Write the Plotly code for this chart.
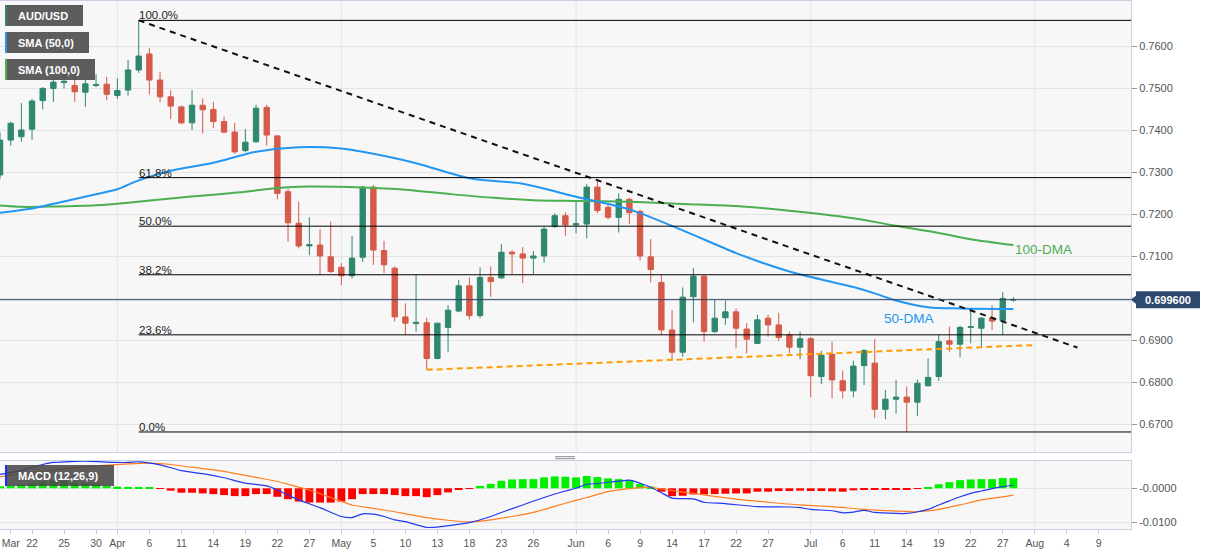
import numpy as np
import pandas as pd
import plotly.graph_objects as go

# ---------------- data ----------------
dates = pd.bdate_range("2022-03-17", "2022-07-28").strftime("%Y-%m-%d").tolist()

open_ = [0.7293, 0.7376, 0.7384, 0.7402, 0.7470, 0.7499, 0.7513, 0.7506, 0.7490, 0.7506, 0.7509,
         0.7482, 0.7495, 0.7543, 0.7581, 0.7519, 0.7479, 0.7455, 0.7417, 0.7459, 0.7449, 0.7420,
         0.7395, 0.7351, 0.7372, 0.7454, 0.7386, 0.7253, 0.7178, 0.7124, 0.7126, 0.7098,
         0.7073, 0.7053, 0.7097, 0.7264, 0.7113, 0.7071, 0.6955, 0.6939, 0.6941, 0.6856, 0.6930,
         0.6969, 0.7029, 0.6958, 0.7049, 0.7048, 0.7109, 0.7105, 0.7095, 0.7100, 0.7170, 0.7196,
         0.7174, 0.7176, 0.7264, 0.7216, 0.7192, 0.7235, 0.7206, 0.7098, 0.7037, 0.6924, 0.6871,
         0.7003, 0.7052, 0.6920, 0.6953, 0.6967, 0.6926, 0.6892, 0.6952, 0.6936, 0.6912, 0.6883,
         0.6903, 0.6813, 0.6866, 0.6803, 0.6779, 0.6839, 0.6845, 0.6735, 0.6759, 0.6764, 0.6752,
         0.6791, 0.6813, 0.6898, 0.6890, 0.6930, 0.6928, 0.6952, 0.6946, 0.6995]
high = [0.7394, 0.7420, 0.7464, 0.7474, 0.7502, 0.7523, 0.7536, 0.7531, 0.7521, 0.7533, 0.7527,
        0.7523, 0.7567, 0.7661, 0.7595, 0.7539, 0.7495, 0.7458, 0.7495, 0.7475, 0.7467, 0.7432,
        0.7417, 0.7402, 0.7460, 0.7460, 0.7388, 0.7260, 0.7229, 0.7192, 0.7164, 0.7182,
        0.7083, 0.7148, 0.7267, 0.7269, 0.7136, 0.7075, 0.6987, 0.7055, 0.6953, 0.6941, 0.6983,
        0.7043, 0.7049, 0.7073, 0.7075, 0.7128, 0.7114, 0.7121, 0.7112, 0.7170, 0.7202, 0.7204,
        0.7229, 0.7271, 0.7283, 0.7221, 0.7249, 0.7239, 0.7210, 0.7140, 0.7055, 0.6971, 0.7025,
        0.7071, 0.7055, 0.6995, 0.6994, 0.6975, 0.6940, 0.6960, 0.6960, 0.6965, 0.6920, 0.6920,
        0.6907, 0.6874, 0.6896, 0.6827, 0.6851, 0.6878, 0.6902, 0.6781, 0.6805, 0.6789, 0.6806,
        0.6856, 0.6912, 0.6932, 0.6934, 0.6971, 0.6954, 0.6983, 0.7014, 0.7002]
low = [0.7283, 0.7363, 0.7372, 0.7376, 0.7449, 0.7467, 0.7499, 0.7467, 0.7455, 0.7502, 0.7471,
       0.7474, 0.7482, 0.7536, 0.7485, 0.7466, 0.7426, 0.7414, 0.7400, 0.7392, 0.7404, 0.7392,
       0.7343, 0.7347, 0.7370, 0.7363, 0.7235, 0.7134, 0.7118, 0.7102, 0.7055, 0.7059,
       0.7031, 0.7047, 0.7086, 0.7079, 0.7059, 0.6944, 0.6912, 0.6920, 0.6829, 0.6854, 0.6872,
       0.6966, 0.6949, 0.6952, 0.7003, 0.7045, 0.7057, 0.7035, 0.7057, 0.7084, 0.7167, 0.7148,
       0.7154, 0.7142, 0.7202, 0.7187, 0.7156, 0.7176, 0.7090, 0.7037, 0.6912, 0.6851, 0.6860,
       0.6942, 0.6896, 0.6916, 0.6936, 0.6880, 0.6868, 0.6890, 0.6908, 0.6898, 0.6868, 0.6854,
       0.6764, 0.6795, 0.6761, 0.6761, 0.6764, 0.6793, 0.6714, 0.6711, 0.6725, 0.6681, 0.6719,
       0.6789, 0.6803, 0.6872, 0.6859, 0.6892, 0.6882, 0.6924, 0.6912, 0.6991]
close = [0.7376, 0.7416, 0.7400, 0.7469, 0.7499, 0.7514, 0.7516, 0.7491, 0.7510, 0.7508, 0.7485,
         0.7494, 0.7543, 0.7576, 0.7519, 0.7479, 0.7457, 0.7417, 0.7459, 0.7448, 0.7420, 0.7395,
         0.7348, 0.7371, 0.7452, 0.7388, 0.7249, 0.7179, 0.7124, 0.7127, 0.7100, 0.7063,
         0.7053, 0.7095, 0.7264, 0.7114, 0.7079, 0.6955, 0.6940, 0.6942, 0.6856, 0.6940, 0.6971,
         0.7029, 0.6958, 0.7049, 0.7039, 0.7109, 0.7105, 0.7095, 0.7100, 0.7164, 0.7196, 0.7174,
         0.7177, 0.7264, 0.7208, 0.7192, 0.7235, 0.7203, 0.7100, 0.7068, 0.6924, 0.6871, 0.7002,
         0.7052, 0.6920, 0.6952, 0.6967, 0.6928, 0.6902, 0.6948, 0.6936, 0.6906, 0.6883, 0.6903,
         0.6815, 0.6864, 0.6805, 0.6779, 0.6838, 0.6875, 0.6735, 0.6759, 0.6764, 0.6752, 0.6797,
         0.6811, 0.6896, 0.6890, 0.6930, 0.6932, 0.6952, 0.6945, 0.6999, 0.6996]

sma50_dates = ["2022-03-17", "2022-03-22", "2022-03-25", "2022-03-30", "2022-04-01", "2022-04-05",
               "2022-04-08", "2022-04-14", "2022-04-20", "2022-04-26", "2022-05-02", "2022-05-04",
               "2022-05-11", "2022-05-18", "2022-05-25", "2022-06-01", "2022-06-08", "2022-06-15",
               "2022-06-22", "2022-06-29", "2022-07-07", "2022-07-11", "2022-07-13", "2022-07-18",
               "2022-07-21", "2022-07-28"]
sma50_vals = [0.7203, 0.7213, 0.7230, 0.7247, 0.7259, 0.7280, 0.7303, 0.7322, 0.7348, 0.7359,
              0.7356, 0.7348, 0.7321, 0.7285, 0.7272, 0.7241, 0.7211, 0.7161, 0.7107, 0.7063,
              0.7026, 0.7011, 0.6994, 0.6978, 0.6975, 0.6974]

sma100_dates = ["2022-03-17", "2022-03-21", "2022-03-24", "2022-03-30", "2022-04-04", "2022-04-08",
                "2022-04-14", "2022-04-19", "2022-04-22", "2022-04-26", "2022-05-04", "2022-05-10",
                "2022-05-16", "2022-05-20", "2022-05-26", "2022-06-01", "2022-06-08", "2022-06-15",
                "2022-06-22", "2022-06-29", "2022-07-07", "2022-07-13", "2022-07-19", "2022-07-22",
                "2022-07-28"]
sma100_vals = [0.7220, 0.7217, 0.7218, 0.7221, 0.7227, 0.7237, 0.7246, 0.7253, 0.7262, 0.7265,
               0.7263, 0.7258, 0.7248, 0.7239, 0.7233, 0.7231, 0.7229, 0.7224, 0.7219, 0.7208,
               0.7190, 0.7172, 0.7155, 0.7140, 0.7126]

macd_dates = ["2022-03-17", "2022-03-21", "2022-03-22", "2022-03-23", "2022-03-24", "2022-03-25",
              "2022-03-29", "2022-03-31", "2022-04-04", "2022-04-05", "2022-04-07", "2022-04-11",
              "2022-04-13", "2022-04-15", "2022-04-19", "2022-04-21", "2022-04-22", "2022-04-25",
              "2022-04-26", "2022-04-28", "2022-05-02", "2022-05-03", "2022-05-04", "2022-05-05",
              "2022-05-06", "2022-05-09", "2022-05-10", "2022-05-12", "2022-05-13", "2022-05-16",
              "2022-05-18", "2022-05-20", "2022-05-23", "2022-05-25", "2022-05-27", "2022-05-31",
              "2022-06-01", "2022-06-02", "2022-06-03", "2022-06-07", "2022-06-08", "2022-06-09",
              "2022-06-10", "2022-06-13", "2022-06-14", "2022-06-16", "2022-06-17", "2022-06-21",
              "2022-06-24", "2022-06-29", "2022-06-30", "2022-07-01", "2022-07-05", "2022-07-06",
              "2022-07-07", "2022-07-08", "2022-07-11", "2022-07-13", "2022-07-14", "2022-07-15",
              "2022-07-18", "2022-07-19", "2022-07-20", "2022-07-21", "2022-07-22", "2022-07-25",
              "2022-07-26", "2022-07-27", "2022-07-28"]
macd_vals = [0.0041, 0.0052, 0.0062, 0.0070, 0.0076, 0.0078, 0.0080, 0.0077, 0.0076, 0.0078,
             0.0069, 0.0052, 0.0043, 0.0031, 0.0015, 0.0007, -0.0005, -0.0020, -0.0034, -0.0057,
             -0.0083, -0.0086, -0.0075, -0.0076, -0.0083, -0.0093, -0.0098, -0.0115, -0.0114,
             -0.0110, -0.0101, -0.0083, -0.0071, -0.0049, -0.0027, -0.0008, 0.0000, 0.0012,
             0.0014, 0.0021, 0.0024, 0.0015, 0.0003, -0.0013, -0.0029, -0.0031, -0.0041, -0.0045,
             -0.0054, -0.0055, -0.0057, -0.0062, -0.0066, -0.0072, -0.0070, -0.0065, -0.0071,
             -0.0074, -0.0074, -0.0069, -0.0062, -0.0049, -0.0037, -0.0025, -0.0015, -0.0008,
             -0.0001, 0.0005, 0.0009]

signal_dates = ["2022-03-17", "2022-03-22", "2022-03-25", "2022-03-30", "2022-04-04", "2022-04-06",
                "2022-04-08", "2022-04-12", "2022-04-14", "2022-04-18", "2022-04-20", "2022-04-22",
                "2022-04-25", "2022-04-27", "2022-04-29", "2022-05-03", "2022-05-05", "2022-05-09",
                "2022-05-10", "2022-05-12", "2022-05-16", "2022-05-18", "2022-05-20", "2022-05-24",
                "2022-05-26", "2022-05-31", "2022-06-02", "2022-06-06", "2022-06-09", "2022-06-10",
                "2022-06-13", "2022-06-16", "2022-06-22", "2022-06-27", "2022-06-30", "2022-07-05",
                "2022-07-08", "2022-07-13", "2022-07-15", "2022-07-19", "2022-07-21", "2022-07-25",
                "2022-07-27", "2022-07-28"]
signal_vals = [0.0034, 0.0047, 0.0057, 0.0066, 0.0072, 0.0074, 0.0070, 0.0062, 0.0054, 0.0044,
               0.0032, 0.0020, 0.0012, -0.0005, -0.0027, -0.0049, -0.0059, -0.0069, -0.0075,
               -0.0086, -0.0094, -0.0099, -0.0093, -0.0083, -0.0071, -0.0044, -0.0027, -0.0010,
               0.0002, 0.0003, -0.0002, -0.0015, -0.0032, -0.0041, -0.0049, -0.0054, -0.0062,
               -0.0067, -0.0069, -0.0062, -0.0049, -0.0034, -0.0025, -0.0020]

hist_vals = [0.0006, 0.0007, 0.0010, 0.0015, 0.0020, 0.0023, 0.0022, 0.0017, 0.0015, 0.0012, 0.0007,
             0.0005, 0.0004, 0.0004, 0.0003, -0.0001, -0.0007, -0.0013, -0.0013, -0.0015, -0.0017,
             -0.0020, -0.0023, -0.0023, -0.0017, -0.0017, -0.0025, -0.0032, -0.0039, -0.0042,
             -0.0042, -0.0042,
             -0.0039, -0.0032, -0.0017, -0.0017, -0.0017, -0.0020, -0.0023, -0.0023, -0.0026,
             -0.0020, -0.0012, -0.0003, -0.0001, 0.0007, 0.0013, 0.0022, 0.0026, 0.0027, 0.0027,
             0.0032, 0.0035, 0.0034,
             0.0032, 0.0036, 0.0033, 0.0029, 0.0027, 0.0024, 0.0013, 0.0005, -0.0010, -0.0023,
             -0.0022, -0.0018, -0.0018, -0.0017, -0.0016, -0.0015, -0.0015, -0.0010, -0.0010,
             -0.0008, -0.0008, -0.0007,
             -0.0008, -0.0008, -0.0009, -0.0010, -0.0006, -0.0003, -0.0005, -0.0004, -0.0004,
             -0.0003, -0.0001, 0.0003, 0.0012, 0.0018, 0.0024, 0.0026, 0.0027, 0.0027, 0.0030,
             0.0030]

fib_high = 0.7661
fib_low = 0.6681
fib_ratios = [1.0, 0.618, 0.5, 0.382, 0.236, 0.0]
fib_labels = ["100.0%", "61.8%", "50.0%", "38.2%", "23.6%", "0.0%"]
fib_start = "2022-04-05"

trend_dates = ["2022-04-05", "2022-08-05"]
trend_vals = [0.7661, 0.6882]
support_dates = ["2022-05-12", "2022-08-01"]
support_vals = [0.6829, 0.6888]
last_price = 0.6996

tick_dates = ["2022-03-18", "2022-03-22", "2022-03-25", "2022-03-30", "2022-04-01", "2022-04-06",
              "2022-04-11", "2022-04-14", "2022-04-19", "2022-04-22", "2022-04-27", "2022-05-02",
              "2022-05-05", "2022-05-10", "2022-05-13", "2022-05-18", "2022-05-23", "2022-05-26",
              "2022-06-01", "2022-06-06", "2022-06-09", "2022-06-14", "2022-06-17", "2022-06-22",
              "2022-06-27", "2022-07-01", "2022-07-06", "2022-07-11", "2022-07-14", "2022-07-19",
              "2022-07-22", "2022-07-27", "2022-08-01", "2022-08-04", "2022-08-09"]
tick_labels = ["Mar", "22", "25", "30", "Apr", "6", "11", "14", "19", "22", "27", "May", "5", "10",
               "13", "18", "23", "26", "Jun", "6", "9", "14", "17", "22", "27", "Jul", "6", "11",
               "14", "19", "22", "27", "Aug", "4", "9"]
month_starts = ["2022-04-01", "2022-05-02", "2022-06-01", "2022-07-01", "2022-08-01"]
price_ticks = [0.67, 0.68, 0.69, 0.70, 0.71, 0.72, 0.73, 0.74, 0.75, 0.76]
price_tick_text = ["0.6700", "0.6800", "0.6900", "", "0.7100", "0.7200", "0.7300", "0.7400",
                   "0.7500", "0.7600"]
macd_ticks = [0.0, -0.01]
macd_tick_text = ["-0.0000", "-0.0100"]

assert len(open_) == len(dates) == len(high) == len(low) == len(close) == len(hist_vals)

# ---------------- helpers ----------------
BASE = np.datetime64(dates[0])


def ix(ds):
    return np.busday_count(BASE, np.array(ds, dtype="datetime64[D]")).astype(float).tolist()


W, H = 1207, 555
ML, MR, MT, MB = 0, 76, 1, 26
PW, PH = W - ML - MR, H - MT - MB
DAY_PX = 10.667


def px(x):
    return (x - ML) / PW


def py(y):
    return (H - MB - y) / PH


XR = [-0.003, PW / DAY_PX - 0.003]
Y1R = [0.76 - (452 - 46) / 4200, 0.76 + (46 - 1) / 4200]
Y2R = [-(529 - 488.3) / 3400, (488.3 - 461) / 3400]

FONT = "Liberation Sans, Arial, sans-serif"
GREEN = "#2f8770"
RED = "#d65a49"
BORDER = "#c9d0e2"
GRID = "#e4e4e4"

fig = go.Figure()

fig.add_trace(go.Candlestick(
    x=ix(dates), open=open_, high=high, low=low, close=close,
    increasing=dict(line=dict(color=GREEN, width=1), fillcolor=GREEN),
    decreasing=dict(line=dict(color=RED, width=1), fillcolor=RED),
    whiskerwidth=0, xaxis="x", yaxis="y", hoverinfo="skip"))

fig.add_trace(go.Scatter(x=ix(sma100_dates), y=sma100_vals, mode="lines",
                         line=dict(color="#4caf50", width=2, shape="spline", smoothing=0.8),
                         xaxis="x", yaxis="y"))
fig.add_trace(go.Scatter(x=ix(sma50_dates), y=sma50_vals, mode="lines",
                         line=dict(color="#2196f3", width=2, shape="spline", smoothing=0.8),
                         xaxis="x", yaxis="y"))
fig.add_trace(go.Scatter(x=ix(trend_dates), y=trend_vals, mode="lines",
                         line=dict(color="#111111", width=2, dash="6px,5px"),
                         xaxis="x", yaxis="y"))
fig.add_trace(go.Scatter(x=ix(support_dates), y=support_vals, mode="lines",
                         line=dict(color="#ff9d00", width=2, dash="6px,4px"),
                         xaxis="x", yaxis="y"))

# MACD panel
fig.add_trace(go.Bar(x=ix(dates), y=hist_vals, width=0.74,
                     marker=dict(color=["#00ee00" if v >= 0 else "#ff0000" for v in hist_vals],
                                 line=dict(width=0)),
                     xaxis="x2", yaxis="y2"))
fig.add_trace(go.Scatter(x=ix(signal_dates), y=signal_vals, mode="lines",
                         line=dict(color="#ff7f1e", width=1.2, shape="spline", smoothing=0.6),
                         xaxis="x2", yaxis="y2"))
fig.add_trace(go.Scatter(x=ix(macd_dates), y=macd_vals, mode="lines",
                         line=dict(color="#2438ee", width=1.2, shape="spline", smoothing=0.6),
                         xaxis="x2", yaxis="y2"))

shapes = []
annotations = []
# panel backgrounds
for xr_, yr_ in (("x domain", "y domain"), ("x2 domain", "y2 domain")):
    shapes.append(dict(type="rect", xref=xr_, yref=yr_, x0=0, x1=1, y0=0, y1=1,
                       fillcolor="#f7f7f7", line=dict(width=0), layer="below"))
# month gridlines
for m in ix(month_starts):
    for yr_ in ("y domain", "y2 domain"):
        shapes.append(dict(type="line", xref="x" if yr_ == "y domain" else "x2", yref=yr_,
                           x0=m, x1=m, y0=0, y1=1, line=dict(color=GRID, width=1), layer="below"))

# fibonacci levels
fs = ix([fib_start])[0]
for r, lab in zip(fib_ratios, fib_labels):
    lvl = fib_low + r * (fib_high - fib_low)
    shapes.append(dict(type="line", xref="x", yref="y", x0=fs, x1=XR[1], y0=lvl, y1=lvl,
                       line=dict(color="#000000", width=1), layer="above"))
    annotations.append(dict(x=fs, y=lvl, xref="x", yref="y", text=lab, showarrow=False,
                            xanchor="left", yanchor="bottom", yshift=-3, xshift=-2,
                            font=dict(family=FONT, size=11.5, color="#222222")))

# last price line + tag
shapes.append(dict(type="line", xref="x domain", yref="y", x0=0, x1=1, y0=last_price, y1=last_price,
                   line=dict(color="#2c4464", width=1), layer="above"))
ly = 46 + (0.76 - last_price) * 4200
shapes.append(dict(type="rect", xref="paper", yref="paper", x0=px(1136), x1=px(1200),
                   y0=py(ly + 8.5), y1=py(ly - 8.5), fillcolor="#2c4a6d", line=dict(width=0)))
shapes.append(dict(type="path", xref="paper", yref="paper",
                   path=f"M {px(1131)},{py(ly)} L {px(1137)},{py(ly - 5)} L {px(1137)},{py(ly + 5)} Z",
                   fillcolor="#2c4a6d", line=dict(width=0)))
annotations.append(dict(x=px(1168), y=py(ly), xref="paper", yref="paper",
                        text=f"<b>{last_price:.6f}</b>", showarrow=False,
                        xanchor="center", yanchor="middle",
                        font=dict(family=FONT, size=11, color="white")))

# legend boxes
legend_items = [("AUD/USD", GREEN, 5, 83, 5, 26),
                ("SMA (50,0)", "#2196f3", 5, 89, 32, 53),
                ("SMA (100,0)", "#4caf50", 5, 95, 59, 80),
                ("MACD (12,26,9)", "#1a2cff", 5, 114, 465, 486)]
for text, col, x0, x1, y0, y1 in legend_items:
    shapes.append(dict(type="rect", xref="paper", yref="paper", x0=px(x0), x1=px(x1),
                       y0=py(y1), y1=py(y0), fillcolor="rgba(72,72,72,0.88)", line=dict(width=0)))
    shapes.append(dict(type="rect", xref="paper", yref="paper", x0=px(x0), x1=px(x0 + 2),
                       y0=py(y1), y1=py(y0), fillcolor=col, line=dict(width=0)))
    annotations.append(dict(x=px(16), y=py((y0 + y1) / 2), xref="paper", yref="paper",
                            text=f"<b>{text}</b>", showarrow=False, xanchor="left", yanchor="middle",
                            font=dict(family=FONT, size=11, color="white")))

# drag handle between panels
for hy in (456.7, 458.7):
    shapes.append(dict(type="line", xref="paper", yref="paper", x0=px(555), x1=px(575),
                       y0=py(hy), y1=py(hy), line=dict(color="#8a8a8a", width=1)))

# line labels
annotations.append(dict(x=px(909), y=py(318), xref="paper", yref="paper", text="50-DMA",
                        showarrow=False, xanchor="center", yanchor="middle",
                        font=dict(family=FONT, size=13.5, color="#2196f3")))
annotations.append(dict(x=px(1043), y=py(250), xref="paper", yref="paper", text="100-DMA",
                        showarrow=False, xanchor="center", yanchor="middle",
                        font=dict(family=FONT, size=13.5, color="#4caf50")))

axis_common = dict(showline=True, mirror=True, linecolor=BORDER, linewidth=1, zeroline=False,
                   fixedrange=True)

fig.update_layout(
    width=W, height=H, margin=dict(l=ML, r=MR, t=MT, b=MB),
    paper_bgcolor="white", plot_bgcolor="white", showlegend=False,
    boxgap=0.28, hovermode=False,
    font=dict(family=FONT, size=11, color="#555555"),
    xaxis=dict(domain=[0, 1], range=XR, anchor="y", showticklabels=False, showgrid=False,
               rangeslider=dict(visible=False), ticks="", **axis_common),
    yaxis=dict(domain=[py(452), 1], range=Y1R, anchor="x", side="right", tickvals=price_ticks,
               ticktext=price_tick_text, showgrid=True, gridcolor=GRID, gridwidth=1,
               ticks="outside", ticklen=5, tickcolor="#9a9a9a",
               tickfont=dict(family=FONT, size=11, color="#555555"), **axis_common),
    xaxis2=dict(domain=[0, 1], range=XR, anchor="y2", tickvals=ix(tick_dates), ticktext=tick_labels,
                showgrid=False, ticks="outside", ticklen=4, tickcolor="#c8c8c8",
                tickfont=dict(family=FONT, size=10.5, color="#555555"), **axis_common),
    yaxis2=dict(domain=[0, py(461)], range=Y2R, anchor="x2", side="right", tickvals=macd_ticks,
                ticktext=macd_tick_text, showgrid=True, gridcolor=GRID, gridwidth=1,
                ticks="outside", ticklen=5, tickcolor="#9a9a9a",
                tickfont=dict(family=FONT, size=11, color="#555555"), **axis_common),
    shapes=shapes, annotations=annotations,
)

fig.write_html("out.html", config=dict(displayModeBar=False))
